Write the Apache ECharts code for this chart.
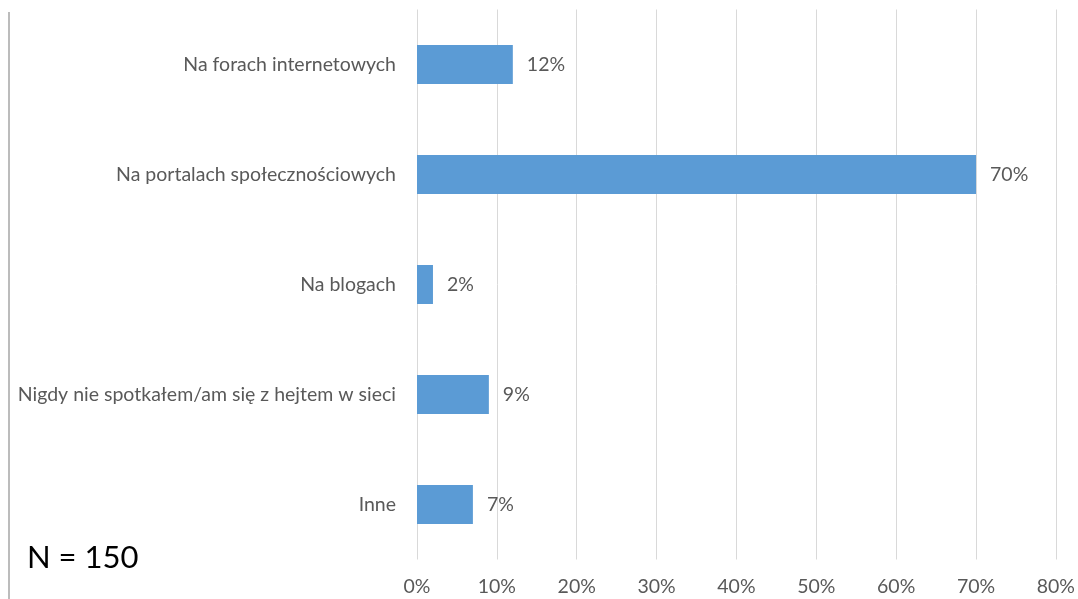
<!DOCTYPE html>
<html>
<head>
<meta charset="utf-8">
<script src="https://cdn.jsdelivr.net/npm/echarts@6/dist/echarts.min.js"></script>
<style>
html,body{margin:0;padding:0;background:#fff;}
#c{width:1078px;height:599px;}
</style>
</head>
<body>
<div id="c"></div>
<script>
const categories = [
  "Na forach internetowych",
  "Na portalach społecznościowych",
  "Na blogach",
  "Nigdy nie spotkałem/am się z hejtem w sieci",
  "Inne"
];
const values = [12, 70, 2, 9, 7];
const xTicks = [0, 10, 20, 30, 40, 50, 60, 70, 80];
const note = "N = 150";

const FS = 19.5;
const chart = echarts.init(document.getElementById('c'));
chart.setOption({
  animation: false,
  backgroundColor: '#fff',
  grid: {left: 417, right: 21, top: 9.5, bottom: 39.5, containLabel: false},
  xAxis: {
    type: 'value', min: xTicks[0], max: xTicks[xTicks.length - 1], interval: 10,
    axisLine: {show: false}, axisTick: {show: false},
    axisLabel: {formatter: v => v + '%', color: '#595959', fontFamily: 'Lato', fontSize: FS, margin: 17},
    splitLine: {show: true, lineStyle: {color: '#d9d9d9', width: 1}}
  },
  yAxis: {
    type: 'category', data: categories, inverse: true,
    axisLine: {show: false}, axisTick: {show: false},
    axisLabel: {color: '#595959', fontFamily: 'Lato', fontSize: FS, margin: 21}
  },
  series: [{
    type: 'bar', data: values, barWidth: 39,
    itemStyle: {color: '#5b9bd5'},
    label: {show: true, position: 'right', distance: 14, formatter: p => p.value + '%',
      color: '#595959', fontFamily: 'Lato', fontSize: FS}
  }],
  graphic: [
    {type: 'line', shape: {x1: 9, y1: 12, x2: 9, y2: 599}, style: {stroke: '#a6a6a6', lineWidth: 1.5}},
    {type: 'text', left: 27, top: 542, style: {text: note, fontFamily: 'Lato', fontSize: 31, fill: '#000'}}
  ]
});
</script>
</body>
</html>
